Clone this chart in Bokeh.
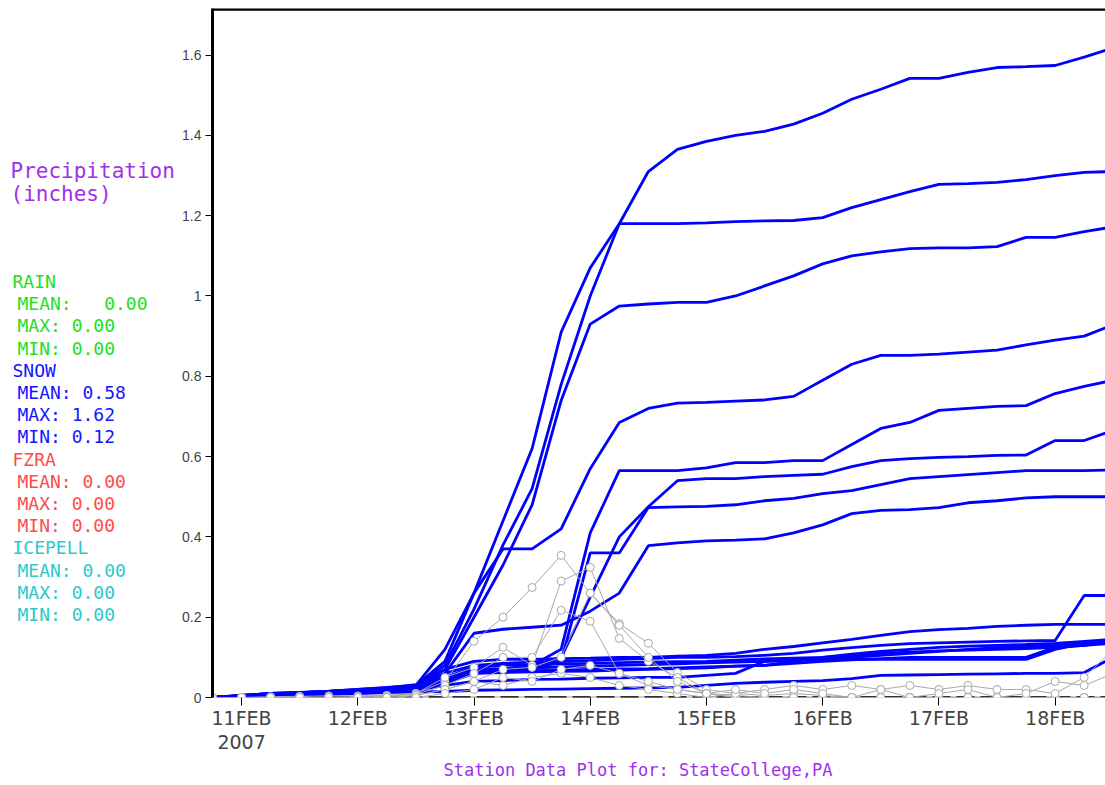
from bokeh.plotting import figure
from bokeh.models import Range1d, FixedTicker, Span, Title
from bokeh.layouts import row
from bokeh.embed import file_html
from bokeh.resources import INLINE
from bokeh.core.properties import value

# ---------------- data ----------------
# forecast hours relative to 11FEB2007 00Z (6-hourly)
hours = [-6, 0, 6, 12, 18, 24, 30, 36, 42, 48, 54, 60, 66, 72, 78, 84,
         90, 96, 102, 108, 114, 120, 126, 132, 138, 144, 150, 156, 162, 168, 174, 180]

x_ticks = [0, 24, 48, 72, 96, 120, 144, 168]
x_tick_labels = ["11FEB\n2007", "12FEB", "13FEB", "14FEB", "15FEB", "16FEB", "17FEB", "18FEB"]
y_ticks = [0, 0.2, 0.4, 0.6, 0.8, 1, 1.2, 1.4, 1.6]
y_tick_labels = ["0", "0.2", "0.4", "0.6", "0.8", "1", "1.2", "1.4", "1.6"]

# accumulated snow (inches) per member
snow_1 = [0, .005, .01, .012, .015, .018, .02, .03, .09, .26, .44, .62, .91, 1.07, 1.18, 1.31,
          1.365, 1.385, 1.40, 1.41, 1.428, 1.455, 1.49, 1.515, 1.542, 1.542, 1.557, 1.569, 1.571, 1.574, 1.595, 1.618]
snow_2 = [0, .005, .01, .012, .015, .018, .022, .03, .08, .22, .38, .52, .78, 1.00, 1.18, 1.18,
          1.18, 1.182, 1.185, 1.187, 1.188, 1.195, 1.22, 1.24, 1.26, 1.278, 1.28, 1.283, 1.29, 1.30, 1.308, 1.31]
snow_3 = [0, .005, .01, .013, .016, .02, .024, .032, .07, .20, .33, .48, .74, .93, .975, .98,
          .984, .984, 1.0, 1.025, 1.05, 1.08, 1.10, 1.11, 1.118, 1.12, 1.12, 1.123, 1.146, 1.146, 1.16, 1.172]
snow_4 = [0, .004, .008, .012, .015, .02, .025, .03, .12, .26, .37, .37, .42, .57, .685, .72,
          .733, .735, .738, .741, .75, .79, .83, .852, .852, .855, .86, .865, .878, .89, .90, .928]
snow_5 = [0, .004, .008, .01, .013, .016, .02, .025, .05, .06, .07, .08, .12, .41, .565, .565,
          .565, .572, .585, .585, .59, .59, .63, .67, .685, .715, .72, .725, .727, .757, .775, .79]
snow_6 = [0, .004, .008, .01, .013, .016, .02, .025, .045, .06, .07, .08, .10, .25, .40, .475,
          .54, .545, .545, .55, .553, .556, .575, .59, .595, .598, .60, .603, .604, .64, .64, .665]
snow_7 = [0, .004, .007, .01, .012, .015, .018, .022, .04, .06, .065, .07, .09, .36, .36, .473,
          .475, .476, .48, .49, .496, .508, .515, .53, .545, .55, .555, .56, .565, .565, .565, .567]
snow_8 = [0, .004, .007, .01, .012, .015, .018, .025, .06, .16, .17, .175, .18, .215, .26, .378,
          .385, .39, .392, .395, .41, .43, .458, .466, .468, .473, .485, .49, .497, .50, .50, .50]
snow_9 = [0, .004, .007, .01, .012, .015, .02, .03, .07, .09, .095, .095, .097, .098, .10, .10,
          .103, .105, .11, .12, .127, .136, .145, .155, .164, .169, .172, .177, .18, .182, .182, .182]
snow_10 = [0, .004, .007, .01, .012, .015, .02, .03, .06, .08, .085, .088, .09, .092, .095, .097,
           .10, .10, .102, .105, .11, .118, .124, .13, .134, .136, .138, .14, .141, .142, .254, .254]
snow_11 = [0, .003, .006, .009, .011, .014, .018, .025, .05, .075, .08, .082, .084, .085, .087, .088,
           .089, .09, .093, .096, .098, .10, .108, .115, .12, .125, .128, .13, .132, .135, .14, .145]
snow_12 = [0, .003, .006, .009, .011, .014, .018, .024, .045, .07, .072, .074, .076, .078, .08, .082,
           .084, .086, .088, .09, .093, .095, .10, .105, .11, .115, .12, .124, .127, .13, .135, .14]
snow_13 = [0, .003, .006, .008, .01, .013, .017, .022, .04, .065, .066, .067, .068, .07, .071, .072,
           .074, .076, .078, .08, .09, .10, .105, .11, .113, .116, .118, .12, .122, .125, .13, .135]
snow_14 = [0, .003, .005, .008, .01, .012, .016, .02, .035, .06, .062, .064, .065, .066, .068, .07,
           .072, .074, .078, .08, .085, .09, .094, .097, .10, .10, .10, .10, .10, .125, .13, .14]
snow_15 = [0, .003, .005, .007, .009, .011, .014, .018, .03, .04, .042, .045, .046, .048, .049, .05,
           .05, .055, .06, .09, .093, .095, .095, .095, .095, .095, .095, .095, .095, .12, .135, .14]
snow_16 = [0, .002, .004, .006, .008, .01, .012, .014, .015, .018, .019, .02, .021, .022, .023, .024,
           .025, .03, .035, .038, .04, .042, .047, .055, .056, .057, .058, .059, .06, .06, .062, .10]
snow_series = [snow_1, snow_2, snow_3, snow_4, snow_5, snow_6, snow_7, snow_8,
               snow_9, snow_10, snow_11, snow_12, snow_13, snow_14, snow_15, snow_16]

# 6-hourly amounts (grey, with markers)
amt_1 = [0, 0, .002, .003, .004, .004, .005, .01, .04, .14, .20, .274, .354, .26, .184, .135,
         .062, .02, .01, .005, .01, .005, 0, 0, 0, 0, 0, 0, 0, 0, 0, 0]
amt_2 = [0, 0, 0, 0, 0, .002, .005, .01, .05, .075, .125, .08, .29, .324, .147, .09,
         .05, .01, .005, 0, 0, 0, 0, 0, 0, 0, 0, 0, 0, 0, 0, 0]
amt_3 = [0, 0, 0, 0, 0, 0, .003, .008, .03, .06, .10, .10, .217, .19, .06, .03,
         .02, .01, 0, 0, 0, 0, 0, 0, 0, 0, 0, 0, 0, 0, 0, 0]
amt_4 = [0, 0, 0, 0, 0, 0, 0, .005, .02, .04, .07, .075, .10, .26, .18, .10,
         .04, .01, 0, 0, 0, 0, 0, 0, 0, 0, 0, 0, 0, 0, 0, 0]
amt_5 = [0, 0, 0, 0, 0, 0, 0, .005, .02, .04, .03, .05, .06, .05, .03, .02,
         .01, 0, .01, .02, .03, .02, .03, .02, .03, .02, .03, .02, .02, .01, .05, .12]
amt_6 = [0, 0, 0, 0, 0, 0, 0, 0, .01, .02, .05, .04, .07, .08, .06, .04,
         .02, .01, .02, .01, .02, .01, 0, .02, 0, .01, .02, 0, .01, .04, .03, .06]
amount_series = [amt_1, amt_2, amt_3, amt_4, amt_5, amt_6]
zero_series = [0] * len(hours)

# legend statistics
ptypes = ["RAIN", "SNOW", "FZRA", "ICEPELL"]
ptype_colors = ["#22e022", "#1414ff", "#ff4a4a", "#2cc8cc"]
stat_mean = ["0.00", "0.58", "0.00", "0.00"]
stat_max = ["0.00", "1.62", "0.00", "0.00"]
stat_min = ["0.00", "0.12", "0.00", "0.00"]
mean_gap = [3, 1, 1, 1]

PURPLE = "#a030e8"
MONO = "DejaVu Sans Mono"
NB = "\u00a0"

H = 785
TOP = 8
BOTTOM = 88
LEFT_W = 178

# ---------------- left text panel ----------------
left = figure(width=LEFT_W, height=H, x_range=Range1d(0, LEFT_W), y_range=Range1d(H - BOTTOM, TOP),
              x_axis_type=None, y_axis_type=None, toolbar_location=None,
              output_backend="svg", min_border_left=0, min_border_right=0,
              min_border_top=TOP, min_border_bottom=BOTTOM, outline_line_color=None)
left.grid.visible = False
left.text(x=[10, 10], y=[170, 193], text=["Precipitation", "(inches)"],
          text_color=PURPLE, text_font=value(MONO), text_font_size="21px", text_baseline="middle")
y0 = 281
step = 22.2
for i, name in enumerate(ptypes):
    base = y0 + i * 4 * step
    left.text(x=[12], y=[base], text=[name], text_color=ptype_colors[i], text_font=value(MONO),
              text_font_size="18px", text_baseline="middle")
    lines = ["MEAN:" + NB * mean_gap[i] + stat_mean[i], "MAX:" + NB + stat_max[i],
             "MIN:" + NB + stat_min[i]]
    left.text(x=[17, 17, 17], y=[base + step, base + 2 * step, base + 3 * step], text=lines,
              text_color=ptype_colors[i], text_font=value(MONO), text_font_size="18px",
              text_baseline="middle")

# ---------------- main plot ----------------
p = figure(width=1105 - LEFT_W, height=H, x_range=Range1d(-6, 178.4), y_range=Range1d(0, 1.716),
           toolbar_location=None, output_backend="svg",
           min_border_left=34, min_border_right=0, min_border_top=TOP, min_border_bottom=BOTTOM)
p.outline_line_color = None
p.grid.visible = False

# zero line
p.line(hours, zero_series, line_color="#a0a0a0", line_width=2)
p.line(hours, zero_series, line_color="black", line_width=2.5, line_dash="18 6")

for s in snow_series:
    p.line(hours, s, line_color="#0000ff", line_width=2.8)

for s in amount_series:
    p.line(hours, s, line_color="#a8a8a8", line_width=1)
    p.scatter(hours, s, marker="circle", size=8, line_color="#a8a8a8", fill_color="white",
              line_width=1)

# top border line
p.add_layout(Span(location=1.714, dimension="width", line_color="black", line_width=3))

xa = p.xaxis[0]
xa.ticker = FixedTicker(ticks=x_ticks)
xa.major_label_overrides = dict(zip(x_ticks, x_tick_labels))
xa.axis_line_color = None
xa.major_tick_out = 8
xa.major_tick_in = 0
xa.minor_tick_line_color = None
xa.major_label_text_font = "DejaVu Sans"
xa.major_label_text_font_size = "19px"
xa.major_label_text_line_height = 1.1
xa.major_label_standoff = 1

ya = p.yaxis[0]
ya.ticker = FixedTicker(ticks=y_ticks)
ya.major_label_overrides = dict(zip(y_ticks, y_tick_labels))
ya.axis_line_width = 3
ya.major_tick_out = 7
ya.major_tick_in = 0
ya.minor_tick_line_color = None
ya.major_label_text_font = "Liberation Sans"
ya.major_label_text_font_size = "14px"
ya.major_label_standoff = 4

p.add_layout(Title(text="Station Data Plot for: StateCollege,PA", text_color=PURPLE,
                   text_font=MONO, text_font_size="17px", text_font_style="normal",
                   align="left", offset=231, standoff=4),
             "below")

layout = row(left, p)
open("out.html", "w").write(file_html(layout, INLINE))
